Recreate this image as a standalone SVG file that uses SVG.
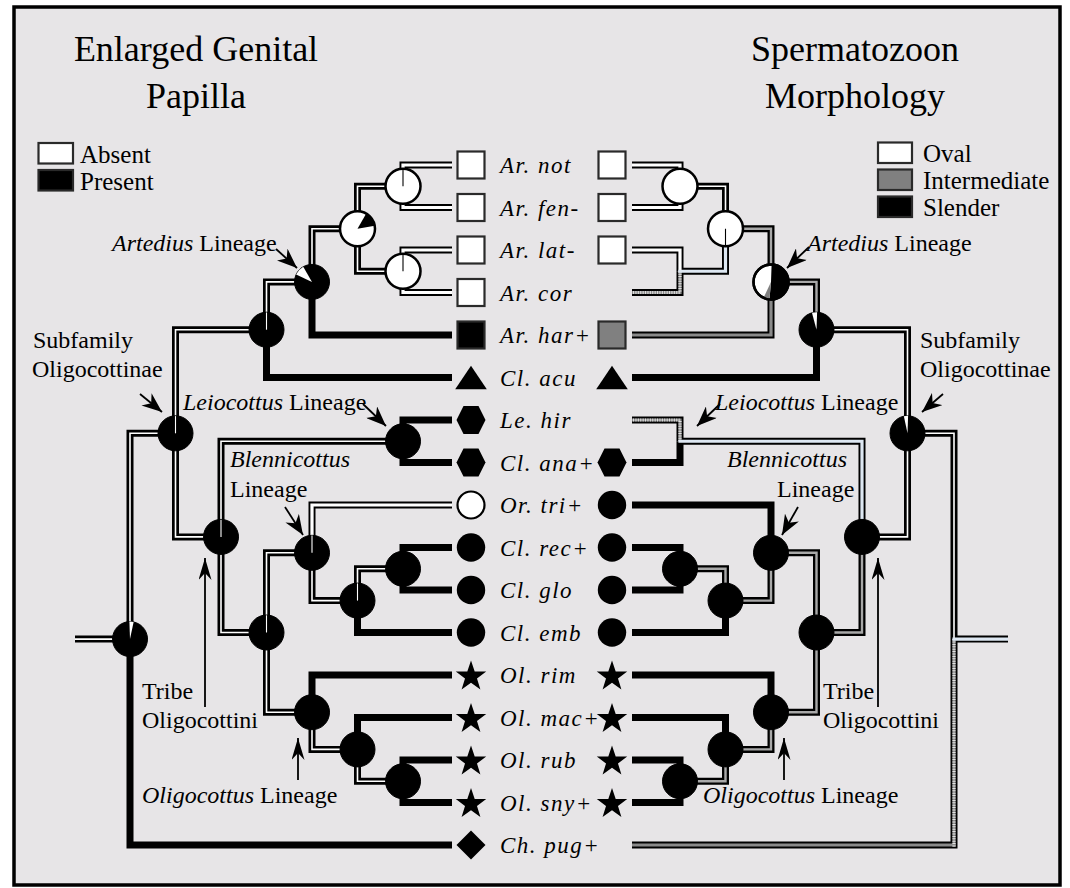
<svg xmlns="http://www.w3.org/2000/svg" xmlns:xlink="http://www.w3.org/1999/xlink" width="1070" height="888" viewBox="0 0 1070 888">
<style>
.o{fill:none;stroke:#000;stroke-width:7;stroke-linejoin:miter;stroke-linecap:butt}
.w{fill:none;stroke:#fff;stroke-width:3.2}
.d{fill:none;stroke:#fff;stroke-width:1.6}
.dg{fill:none;stroke:#a8a8a8;stroke-width:2.4}
.g{fill:none;stroke:#8a8a8a;stroke-width:3.2}
.lb{fill:none;stroke:#dde7f2;stroke-width:3.2}
.gh1{fill:none;stroke:#8c8c8c;stroke-width:3.2}
.gh2{fill:none;stroke:#e2e2e2;stroke-width:3.2;stroke-dasharray:1 1.4}
.nw{fill:#fff;stroke:#000;stroke-width:2.5}
.nb{fill:#000;stroke:#000;stroke-width:1}
.sl{stroke:#fff;stroke-width:1.1}
.slk{stroke:#000;stroke-width:1.1}
.sq{stroke:#2a2a2a;stroke-width:2.2}
.tx{font-family:"Liberation Serif","Times New Roman",serif;fill:#000}
.ttl{font-size:36px;text-anchor:middle}
.lab{font-size:24px}
.leg{font-size:25px}
.taxa{font-size:23px;font-style:italic;letter-spacing:1.5px}
.it{font-style:italic}
.arr{stroke:#000;stroke-width:1.8;fill:none}
</style>
<defs>
<marker id="ah" viewBox="0 0 20 16" refX="20" refY="8" markerWidth="20" markerHeight="16" orient="auto" markerUnits="userSpaceOnUse"><path d="M20,8 L0,0 L6,8 L0,16 Z" fill="#000"/></marker>
<marker id="ahv" viewBox="0 0 22 13" refX="22" refY="6.5" markerWidth="22" markerHeight="13" orient="auto" markerUnits="userSpaceOnUse"><path d="M22,6.5 L0,0 L7,6.5 L0,13 Z" fill="#000"/></marker>
<path id="star" d="M0,-16 L3.7,-5.1 L15.22,-4.94 L5.99,1.95 L9.4,12.94 L0,6.3 L-9.4,12.94 L-5.99,1.95 L-15.22,-4.94 L-3.7,-5.1 Z"/>
</defs>
<rect x="0" y="0" width="1070" height="888" fill="#fff"/>
<rect x="14" y="7" width="1046" height="878" fill="#e7e5e7" stroke="#000" stroke-width="3.5"/>

<g id="titles" class="tx ttl">
<text x="196" y="61">Enlarged Genital</text>
<text x="196" y="108">Papilla</text>
<text x="855" y="61">Spermatozoon</text>
<text x="855" y="108">Morphology</text>
</g>

<g id="legend-left">
<rect x="38.5" y="143" width="34.5" height="20.5" fill="#fff" class="sq"/>
<rect x="38.5" y="170" width="34.5" height="20.5" fill="#000" class="sq"/>
<text class="tx leg" x="80" y="163">Absent</text>
<text class="tx leg" x="80" y="190">Present</text>
</g>
<g id="legend-right">
<rect x="878" y="142.5" width="34" height="20.5" fill="#fff" class="sq"/>
<rect x="878" y="169.5" width="34" height="20.5" fill="#808080" class="sq"/>
<rect x="878" y="196.5" width="34" height="20.5" fill="#000" class="sq"/>
<text class="tx leg" x="923" y="162">Oval</text>
<text class="tx leg" x="923" y="189">Intermediate</text>
<text class="tx leg" x="923" y="216">Slender</text>
</g>

<g id="connectors">
<g class="o">
<path d="M312,281.9V335H452"/><path d="M266.5,329.7V377.5H452"/><path d="M130,639.1V845H452"/>
<path d="M403,441.25V420H452"/><path d="M403,441.25V462.5H452"/><path d="M357.5,600.6V632.5H452"/>
<path d="M403,568.75V547.5H452"/><path d="M403,568.75V590H452"/><path d="M312,712.2V675H452"/>
<path d="M357.5,749.4V717.5H452"/><path d="M403,781.25V760H452"/><path d="M403,781.25V802.5H452"/>
<path d="M403,186.25V165H452"/><path d="M403,186.25V207.5H452"/><path d="M403,271.25V250H452"/><path d="M403,271.25V292.5H452"/><path d="M312,552.8V505H452"/>
<path d="M357.5,228.75V186.25H403"/><path d="M357.5,228.75V271.25H403"/><path d="M312,281.9V228.75H357.5"/>
<path d="M266.5,329.7V281.9H312"/><path d="M175.5,433.3V329.7H266.5"/><path d="M175.5,433.3V536.9H221"/>
<path d="M130,639.1V433.3H175.5"/><path d="M75,639.1H130"/><path d="M221,536.9V441.25H403"/>
<path d="M221,536.9V632.5H266.5"/><path d="M266.5,632.5V552.8H312"/><path d="M312,552.8V600.6H357.5"/>
<path d="M357.5,600.6V568.75H403"/><path d="M266.5,632.5V712.2H312"/><path d="M312,712.2V749.4H357.5"/>
<path d="M357.5,749.4V781.25H403"/>
<path d="M816.5,329.7V377.5H632"/><path d="M680,441.25V462.5H632"/><path d="M771,552.8V505H632"/>
<path d="M725.5,600.6V632.5H632"/><path d="M680,568.75V547.5H632"/><path d="M680,568.75V590H632"/>
<path d="M771,712.2V675H632"/><path d="M725.5,749.4V717.5H632"/><path d="M680,781.25V760H632"/><path d="M680,781.25V802.5H632"/>
<path d="M680,186.25V165H632"/><path d="M680,186.25V207.5H632"/><path d="M680,271.25V250H632"/>
<path d="M680,271.25V292.5H632"/><path d="M680,441.25V420H632"/><path d="M954,639.1V845H632"/>
<path d="M771,281.9V335H632"/>
<path d="M725.5,228.75V271.25H680"/><path d="M862,536.9V441.25H680"/><path d="M954,639.1H1008"/>
<path d="M725.5,228.75V186.25H680"/><path d="M907.5,433.3V329.7H816.5"/><path d="M954,639.1V433.3H907.5"/><path d="M907.5,433.3V536.9H862"/>
<path d="M771,281.9V228.75H725.5"/><path d="M816.5,329.7V281.9H771"/><path d="M862,536.9V632.5H816.5"/>
<path d="M816.5,632.5V552.8H771"/><path d="M771,552.8V600.6H725.5"/><path d="M725.5,600.6V568.75H680"/>
<path d="M816.5,632.5V712.2H771"/><path d="M771,712.2V749.4H725.5"/><path d="M725.5,749.4V781.25H680"/>
</g>
<g class="w">
<path d="M403,186.25V165H452"/><path d="M403,186.25V207.5H452"/><path d="M403,271.25V250H452"/><path d="M403,271.25V292.5H452"/><path d="M312,552.8V505H452"/>
<path d="M680,186.25V165H632"/><path d="M680,186.25V207.5H632"/><path d="M680,272.8V250H632"/>
</g>
<g class="d">
<path d="M357.5,228.75V186.25H403"/><path d="M357.5,228.75V271.25H403"/><path d="M312,281.9V228.75H357.5"/>
<path d="M266.5,329.7V281.9H312"/><path d="M175.5,433.3V329.7H266.5"/><path d="M175.5,433.3V536.9H221"/>
<path d="M130,639.1V433.3H175.5"/><path d="M75,639.1H130"/><path d="M221,536.9V441.25H403"/>
<path d="M221,536.9V632.5H266.5"/><path d="M266.5,632.5V552.8H312"/><path d="M312,552.8V600.6H357.5"/>
<path d="M357.5,600.6V568.75H403"/><path d="M266.5,632.5V712.2H312"/><path d="M312,712.2V749.4H357.5"/>
<path d="M357.5,749.4V781.25H403"/>
<path d="M725.5,228.75V186.25H680"/><path d="M907.5,433.3V329.7H816.5"/><path d="M954,639.1V433.3H907.5"/><path d="M907.5,433.3V536.9H862"/>
</g>
<g class="dg">
<path d="M771,281.9V228.75H725.5"/><path d="M816.5,329.7V281.9H771"/><path d="M862,536.9V632.5H816.5"/>
<path d="M816.5,632.5V552.8H771"/><path d="M771,552.8V600.6H725.5"/><path d="M725.5,600.6V568.75H680"/>
<path d="M816.5,632.5V712.2H771"/><path d="M771,712.2V749.4H725.5"/><path d="M725.5,749.4V781.25H680"/>
</g>
<g class="g">
<path d="M771,281.9V335H632"/><path d="M955.6,845H632"/>
</g>
<g>
<path class="gh1" d="M680,271.25V292.5H632"/><path class="gh2" d="M680,271.25V292.5H632"/>
<path class="gh1" d="M680,441.25V420H632"/><path class="gh2" d="M680,441.25V420H632"/>
<path class="gh1" d="M954,639.1V846.6"/><path class="gh2" d="M954,639.1V846.6"/>
</g>
<g class="lb">
<path d="M725.5,228.75V271.25H678.4"/><path d="M862,536.9V441.25H678.4"/><path d="M952.4,639.1H1008"/>
</g>
</g>

<g id="nodes-left">
<g id="nL1"><circle cx="403" cy="186.25" r="17.5" class="nw"/><line x1="403" y1="186.25" x2="403" y2="168.75" class="slk"/></g>
<g id="nL2"><circle cx="403" cy="271.25" r="17.5" class="nw"/><line x1="403" y1="271.25" x2="403" y2="253.75" class="slk"/></g>
<g id="nL3"><circle cx="357.5" cy="228.75" r="17.5" class="nw"/><path d="M357.5,228.75 L366.25,213.59 A17.5,17.5 0 0 1 374.73,225.71 Z" fill="#000"/></g>
<g id="nL4"><circle cx="312" cy="281.9" r="17.5" class="nb"/><path d="M312,281.9 L296.14,274.5 A17.5,17.5 0 0 1 303.25,266.74 Z" fill="#fff"/></g>
<g id="nL5"><circle cx="266.5" cy="329.7" r="17.5" class="nb"/><line x1="266.5" y1="329.7" x2="266.5" y2="312.5" class="sl"/></g>
<g id="nL6"><circle cx="175.5" cy="433.3" r="17.5" class="nb"/><line x1="175.5" y1="433.3" x2="175.5" y2="416.1" class="sl"/></g>
<g id="nL0"><circle cx="130" cy="639.1" r="17.5" class="nb"/><path d="M130,639.1 L129.39,621.61 A17.5,17.5 0 0 1 133.64,621.98 Z" fill="#fff"/></g>
<g id="nLleio"><circle cx="403" cy="441.25" r="17.5" class="nb"/></g>
<g id="nL7"><circle cx="221" cy="536.9" r="17.5" class="nb"/><line x1="221" y1="536.9" x2="221" y2="519.7" class="sl"/></g>
<g id="nL8"><circle cx="266.5" cy="632.5" r="17.5" class="nb"/><line x1="266.5" y1="632.5" x2="266.5" y2="615.3" class="sl"/></g>
<g id="nLblen"><circle cx="312" cy="552.8" r="17.5" class="nb"/><line x1="312" y1="552.8" x2="312" y2="535.6" class="sl"/></g>
<g id="nLc"><circle cx="357.5" cy="600.6" r="17.5" class="nb"/><line x1="357.5" y1="600.6" x2="357.5" y2="583.4" class="sl"/></g>
<g id="nLrg"><circle cx="403" cy="568.75" r="17.5" class="nb"/></g>
<g id="nLo1"><circle cx="312" cy="712.2" r="17.5" class="nb"/></g>
<g id="nLo2"><circle cx="357.5" cy="749.4" r="17.5" class="nb"/></g>
<g id="nLo3"><circle cx="403" cy="781.25" r="17.5" class="nb"/></g>
</g>

<g id="nodes-right">
<g id="nR1"><circle cx="680" cy="186.25" r="17.5" class="nw"/></g>
<g id="nR3"><circle cx="725.5" cy="228.75" r="17.5" class="nw"/><line x1="725.5" y1="228.75" x2="725.5" y2="246" class="slk"/></g>
<g id="nR4"><circle cx="771" cy="281.9" r="17.5" class="nw"/><path d="M771,281.9 L771.61,264.41 A17.5,17.5 0 1 1 769.47,299.33 Z" fill="#000"/><path d="M771,281.9 L769.47,299.33 A17.5,17.5 0 0 1 763.6,297.76 Z" fill="#808080"/><circle cx="771" cy="281.9" r="17.5" fill="none" stroke="#000" stroke-width="2.5"/></g>
<g id="nR5"><circle cx="816.5" cy="329.7" r="17.5" class="nb"/><path d="M816.5,329.7 L811.97,312.8 A17.5,17.5 0 0 1 817.11,312.21 Z" fill="#fff"/></g>
<g id="nR6"><circle cx="907.5" cy="433.3" r="17.5" class="nb"/><path d="M907.5,433.3 L903.86,416.18 A17.5,17.5 0 0 1 908.11,415.81 Z" fill="#fff"/></g>
<g id="nR7"><circle cx="862" cy="536.9" r="17.5" class="nb"/></g>
<g id="nR8"><circle cx="816.5" cy="632.5" r="17.5" class="nb"/></g>
<g id="nRblen"><circle cx="771" cy="552.8" r="17.5" class="nb"/></g>
<g id="nRc"><circle cx="725.5" cy="600.6" r="17.5" class="nb"/></g>
<g id="nRrg"><circle cx="680" cy="568.75" r="17.5" class="nb"/></g>
<g id="nRo1"><circle cx="771" cy="712.2" r="17.5" class="nb"/></g>
<g id="nRo2"><circle cx="725.5" cy="749.4" r="17.5" class="nb"/></g>
<g id="nRo3"><circle cx="680" cy="781.25" r="17.5" class="nb"/></g>
</g>

<g id="tips-left">
<rect x="457.5" y="151.5" width="27" height="27" fill="#fff" class="sq"/>
<rect x="457.5" y="194" width="27" height="27" fill="#fff" class="sq"/>
<rect x="457.5" y="236.5" width="27" height="27" fill="#fff" class="sq"/>
<rect x="457.5" y="279" width="27" height="27" fill="#fff" class="sq"/>
<rect x="457.5" y="321.5" width="27" height="27" fill="#000" class="sq"/>
<polygon points="471,365.8 455.2,389.2 486.8,389.2" fill="#000"/>
<polygon points="456.5,420 463.5,406 478.5,406 485.5,420 478.5,434 463.5,434" fill="#000"/>
<polygon points="456.5,462.5 463.5,448.5 478.5,448.5 485.5,462.5 478.5,476.5 463.5,476.5" fill="#000"/>
<circle cx="471" cy="505" r="13.5" fill="#fff" stroke="#000" stroke-width="2.2"/>
<circle cx="471" cy="547.5" r="14.2" fill="#000"/>
<circle cx="471" cy="590" r="14.2" fill="#000"/>
<circle cx="471" cy="632.5" r="14.2" fill="#000"/>
<use href="#star" x="471" y="676.5"/>
<use href="#star" x="471" y="719"/>
<use href="#star" x="471" y="761.5"/>
<use href="#star" x="471" y="804"/>
<polygon points="471,830.5 485.5,845 471,859.5 456.5,845" fill="#000"/>
</g>
<g id="tips-right">
<rect x="598.5" y="151.5" width="27" height="27" fill="#fff" class="sq"/>
<rect x="598.5" y="194" width="27" height="27" fill="#fff" class="sq"/>
<rect x="598.5" y="236.5" width="27" height="27" fill="#fff" class="sq"/>
<rect x="598.5" y="321.5" width="27" height="27" fill="#808080" class="sq"/>
<polygon points="612,365.8 596.2,389.2 627.8,389.2" fill="#000"/>
<polygon points="597.5,462.5 604.5,448.5 619.5,448.5 626.5,462.5 619.5,476.5 604.5,476.5" fill="#000"/>
<circle cx="612" cy="505" r="14.2" fill="#000"/>
<circle cx="612" cy="547.5" r="14.2" fill="#000"/>
<circle cx="612" cy="590" r="14.2" fill="#000"/>
<circle cx="612" cy="632.5" r="14.2" fill="#000"/>
<use href="#star" x="612" y="676.5"/>
<use href="#star" x="612" y="719"/>
<use href="#star" x="612" y="761.5"/>
<use href="#star" x="612" y="804"/>
</g>

<g id="taxa" class="tx taxa">
<text x="500" y="173">Ar. not</text>
<text x="500" y="215.5">Ar. fen-</text>
<text x="500" y="258">Ar. lat-</text>
<text x="500" y="300.5">Ar. cor</text>
<text x="500" y="343">Ar. har+</text>
<text x="500" y="385.5">Cl. acu</text>
<text x="500" y="428">Le. hir</text>
<text x="500" y="470.5">Cl. ana+</text>
<text x="500" y="513">Or. tri+</text>
<text x="500" y="555.5">Cl. rec+</text>
<text x="500" y="598">Cl. glo</text>
<text x="500" y="640.5">Cl. emb</text>
<text x="500" y="683">Ol. rim</text>
<text x="500" y="725.5">Ol. mac+</text>
<text x="500" y="768">Ol. rub</text>
<text x="500" y="810.5">Ol. sny+</text>
<text x="500" y="853">Ch. pug+</text>
</g>

<g id="labels-left" class="tx lab">
<text x="112" y="251"><tspan class="it">Artedius</tspan> Lineage</text>
<text x="33" y="348">Subfamily</text>
<text x="32" y="377">Oligocottinae</text>
<text x="183" y="410"><tspan class="it">Leiocottus</tspan> Lineage</text>
<text x="230" y="467" class="it">Blennicottus</text>
<text x="230" y="497">Lineage</text>
<text x="142" y="699">Tribe</text>
<text x="142" y="728">Oligocottini</text>
<text x="142" y="803"><tspan class="it">Oligocottus</tspan> Lineage</text>
</g>
<g id="labels-right" class="tx lab">
<text x="807" y="251"><tspan class="it">Artedius</tspan> Lineage</text>
<text x="920" y="348">Subfamily</text>
<text x="920" y="377">Oligocottinae</text>
<text x="715" y="410"><tspan class="it">Leiocottus</tspan> Lineage</text>
<text x="727" y="467" class="it">Blennicottus</text>
<text x="777" y="497">Lineage</text>
<text x="823" y="699">Tribe</text>
<text x="823" y="728">Oligocottini</text>
<text x="703" y="803"><tspan class="it">Oligocottus</tspan> Lineage</text>
</g>

<g id="arrows" class="arr">
<line x1="276" y1="249" x2="297" y2="268" marker-end="url(#ah)"/>
<line x1="140" y1="394" x2="162" y2="412" marker-end="url(#ah)"/>
<line x1="363" y1="404" x2="386" y2="426" marker-end="url(#ah)"/>
<line x1="285" y1="507" x2="303" y2="535" marker-end="url(#ah)"/>
<line x1="205" y1="707" x2="205" y2="558" marker-end="url(#ahv)"/>
<line x1="298" y1="780" x2="298" y2="738" marker-end="url(#ahv)"/>
<line x1="809" y1="247" x2="787" y2="268" marker-end="url(#ah)"/>
<line x1="943" y1="394" x2="922" y2="412" marker-end="url(#ah)"/>
<line x1="720" y1="404" x2="697" y2="426" marker-end="url(#ah)"/>
<line x1="798" y1="507" x2="782" y2="535" marker-end="url(#ah)"/>
<line x1="878" y1="707" x2="878" y2="558" marker-end="url(#ahv)"/>
<line x1="784" y1="780" x2="784" y2="738" marker-end="url(#ahv)"/>
</g>
</svg>
